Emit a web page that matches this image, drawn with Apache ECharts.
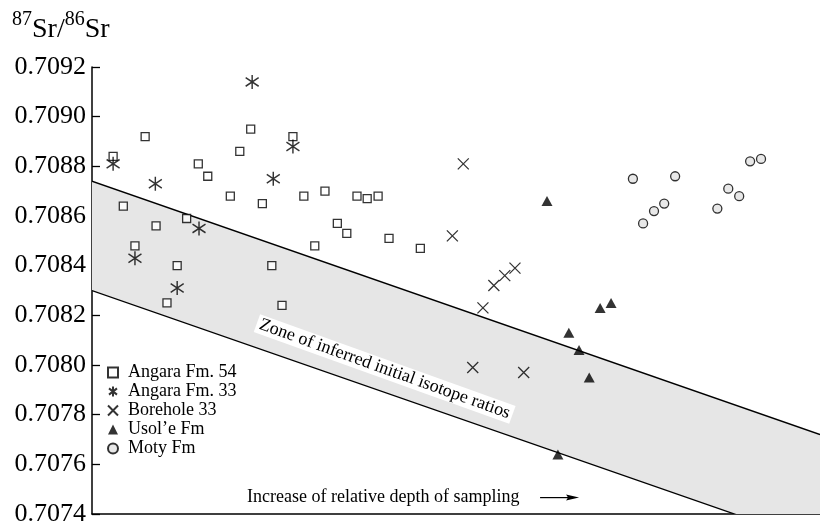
<!DOCTYPE html>
<html>
<head>
<meta charset="utf-8">
<script src="https://cdn.jsdelivr.net/npm/echarts@6/dist/echarts.min.js"></script>
<style>
  html, body { margin: 0; padding: 0; background: #fff; }
  #chart { width: 820px; height: 527px; }
</style>
</head>
<body>
<div id="chart"></div>
<script>
// Relative sampling position (0–100, arbitrary scale) and 87Sr/86Sr ratio
const angara54 = [
  [2.9, 0.70884], [7.3, 0.70892], [4.3, 0.70864], [5.9, 0.70848], [8.8, 0.70856],
  [10.3, 0.70825], [11.7, 0.70840], [13.0, 0.70859], [14.6, 0.70881], [15.9, 0.70876],
  [19.0, 0.70868], [20.3, 0.70886], [21.8, 0.70895], [23.4, 0.70865], [24.7, 0.70840],
  [26.1, 0.70824], [27.6, 0.70892], [29.1, 0.70868], [30.6, 0.70848], [32.0, 0.70870],
  [33.7, 0.70857], [35.0, 0.70853], [36.4, 0.70868], [37.8, 0.70867], [39.3, 0.70868],
  [40.8, 0.70851], [45.1, 0.70847]
];
const angara33 = [
  [2.9, 0.70881], [8.7, 0.70873], [22.0, 0.70914], [24.9, 0.70875], [27.6, 0.70888],
  [5.9, 0.70843], [14.7, 0.70855], [11.7, 0.70831]
];
const borehole33 = [
  [51.0, 0.70881], [49.5, 0.70852], [58.1, 0.70839], [56.7, 0.70836], [55.2, 0.70832],
  [53.7, 0.70823], [52.3, 0.70799], [59.3, 0.70797]
];
const usoleFm = [
  [62.5, 0.70866], [69.8, 0.70823], [71.3, 0.70825], [65.5, 0.70813], [66.9, 0.70806],
  [68.3, 0.70795], [64.0, 0.70764]
];
const motyFm = [
  [74.3, 0.70875], [75.7, 0.70857], [77.2, 0.70862], [78.6, 0.70865], [80.1, 0.70876],
  [85.9, 0.70863], [87.4, 0.70871], [88.9, 0.70868], [90.4, 0.70882], [91.9, 0.70883]
];

// Edges of the zone of inferred initial isotope ratios
const zoneUpper = [[0, 0.70874], [100, 0.70772]];
const zoneLower = [[0, 0.70830], [100, 0.70728]];

const yTicks = { min: 0.7074, max: 0.7092, step: 0.0002 };

const serif = 'Liberation Serif';
const asteriskPath = 'path://M0,-1L0,1M-0.8,-0.62L0.8,0.62M-0.8,0.62L0.8,-0.62';
const crossPath = 'path://M-1,-1L1,1M-1,1L1,-1';

const chart = echarts.init(document.getElementById('chart'), null, { renderer: 'canvas' });

const strokeOnly = { color: 'rgba(0,0,0,0)', borderColor: '#000', borderWidth: 1.5 };

// Shaded zone between two straight edges, clipped to the plot area
function renderZone(params, api) {
  const up = zoneUpper.map(p => api.coord(p));
  const lo = zoneLower.map(p => api.coord(p));
  const cs = params.coordSys;
  return {
    type: 'group',
    clipPath: { type: 'rect', shape: { x: cs.x, y: cs.y, width: cs.width, height: cs.height } },
    children: [
      { type: 'polygon', shape: { points: up.concat(lo.slice().reverse()) }, style: { fill: '#e6e6e6' } },
      { type: 'polyline', shape: { points: up }, style: { stroke: '#000', lineWidth: 1.3, fill: null } },
      { type: 'polyline', shape: { points: lo }, style: { stroke: '#000', lineWidth: 1.3, fill: null } }
    ]
  };
}

chart.setOption({
  animation: false,
  backgroundColor: '#fff',
  title: {
    left: 12,
    top: 10,
    padding: 0,
    text: '{sup|87}{main|Sr/}{sup|86}{main|Sr}',
    textStyle: {
      fontWeight: 'normal',
      rich: {
        sup: { fontFamily: serif, fontWeight: 'normal', fontSize: 20, color: '#000', lineHeight: 20, verticalAlign: 'top' },
        main: { fontFamily: serif, fontWeight: 'normal', fontSize: 28, color: '#000', lineHeight: 34, verticalAlign: 'bottom' }
      }
    }
  },
  legend: {
    orient: 'vertical',
    left: 107,
    top: 363,
    itemWidth: 10,
    itemHeight: 10,
    itemGap: 0,
    padding: 0,
    selectedMode: false,
    textStyle: { fontFamily: serif, fontSize: 18, color: '#000', lineHeight: 19, padding: [0, 0, 0, 5] },
    data: ['Angara Fm. 54', 'Angara Fm. 33', 'Borehole 33', 'Usol’e Fm', 'Moty Fm']
  },
  grid: { left: 92, right: 0, top: 67, bottom: 7, containLabel: false },
  xAxis: {
    type: 'value',
    min: 0,
    max: 100,
    axisLine: { show: true, onZero: false, lineStyle: { color: '#000', width: 1.5 } },
    axisTick: { show: false },
    axisLabel: { show: false },
    splitLine: { show: false }
  },
  yAxis: {
    type: 'value',
    min: yTicks.min,
    max: yTicks.max,
    interval: yTicks.step,
    axisLine: { show: true, onZero: false, lineStyle: { color: '#000', width: 1.5 } },
    axisTick: { show: true, inside: true, length: 8, lineStyle: { color: '#000', width: 1.3 } },
    axisLabel: {
      margin: 6,
      fontFamily: serif,
      fontSize: 26,
      color: '#000',
      formatter: v => v.toFixed(4)
    },
    splitLine: { show: false }
  },
  series: [
    {
      name: 'zone',
      type: 'custom',
      renderItem: renderZone,
      data: [zoneLower[0]],
      silent: true,
      z: 1
    },
    {
      name: 'Angara Fm. 54',
      type: 'scatter',
      data: angara54,
      symbol: 'rect',
      symbolSize: 8,
      z: 3,
      itemStyle: { color: '#fff', borderColor: '#000', borderWidth: 1.3 }
    },
    {
      name: 'Angara Fm. 33',
      type: 'scatter',
      data: angara33,
      symbol: asteriskPath,
      symbolSize: [13, 14],
      z: 4,
      itemStyle: strokeOnly
    },
    {
      name: 'Borehole 33',
      type: 'scatter',
      data: borehole33,
      symbol: crossPath,
      symbolSize: 11,
      z: 4,
      itemStyle: { color: 'rgba(0,0,0,0)', borderColor: '#000', borderWidth: 1.3 }
    },
    {
      name: 'Usol’e Fm',
      type: 'scatter',
      data: usoleFm,
      symbol: 'triangle',
      symbolSize: [11, 10],
      z: 4,
      itemStyle: { color: '#000' }
    },
    {
      name: 'Moty Fm',
      type: 'scatter',
      data: motyFm,
      symbol: 'circle',
      symbolSize: 9,
      z: 4,
      itemStyle: { color: '#e2e2e2', borderColor: '#000', borderWidth: 1.3 }
    }
  ]
});

// Annotations placed in data space
const toPx = p => chart.convertToPixel({ gridIndex: 0 }, p);
const zoneLabelAt = toPx([40.2, 0.707984]);
const depthLabelAt = toPx([21.3, 0.707466]);
const e0 = toPx(zoneUpper[0]);
const e1 = toPx(zoneUpper[1]);
const slope = Math.atan2(e1[1] - e0[1], e1[0] - e0[0]);
const ax = depthLabelAt[0];
const ay = depthLabelAt[1];

chart.setOption({
  graphic: [
    {
      type: 'text',
      x: zoneLabelAt[0],
      y: zoneLabelAt[1],
      rotation: -(slope + 0.01),
      z: 10,
      style: {
        text: 'Zone of inferred initial isotope ratios',
        fontFamily: serif,
        fontSize: 18,
        fill: '#000',
        align: 'center',
        verticalAlign: 'middle',
        backgroundColor: '#fff',
        padding: [1, 3, 0, 3]
      }
    },
    {
      type: 'text',
      x: ax,
      y: ay,
      z: 10,
      style: {
        text: 'Increase of relative depth of sampling',
        fontFamily: serif,
        fontSize: 18,
        fill: '#000',
        align: 'left',
        verticalAlign: 'middle'
      }
    },
    {
      type: 'line',
      z: 10,
      shape: { x1: ax + 293, y1: ay, x2: ax + 324, y2: ay },
      style: { stroke: '#000', lineWidth: 1.2 }
    },
    {
      type: 'polygon',
      z: 10,
      shape: { points: [[ax + 332, ay], [ax + 319, ay - 3], [ax + 321, ay], [ax + 319, ay + 3]] },
      style: { fill: '#000' }
    }
  ]
});
</script>
</body>
</html>
